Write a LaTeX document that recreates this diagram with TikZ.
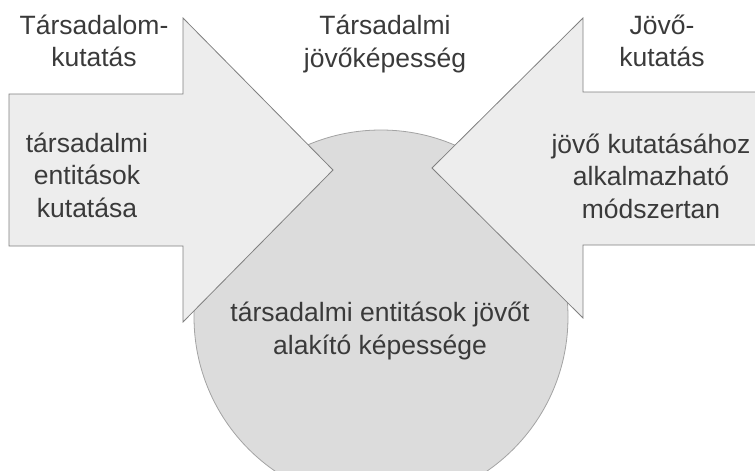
\documentclass[tikz,border=0pt]{standalone}
\usepackage{fontspec}
\setmainfont{Liberation Sans}
\usepackage{tikz}
\usetikzlibrary{calc}

\definecolor{arrowfill}{HTML}{EDEDED}
\definecolor{arrowline}{HTML}{808080}
\definecolor{blobfill}{HTML}{DCDCDC}
\definecolor{blobline}{HTML}{A3A3A3}
\definecolor{textgray}{HTML}{3A3A3A}

\begin{document}
\begin{tikzpicture}[x=1pt,y=-1pt]
% Styles

   \tikzstyle{arrowbox} = [draw=arrowline, fill=arrowfill, line width=0.8pt, line join=miter]
   \tikzstyle{blob} = [draw=blobline, fill=blobfill, line width=0.8pt, shape=circle, minimum size=374pt, inner sep=0pt]
   \tikzstyle{lbl} = [align=center, text=textgray, inner sep=0pt, font=\fontsize{26.5}{32.5}\selectfont]

\useasboundingbox (0,0) rectangle (755,471);

% Capability circle, behind the arrows
\node[blob] (core) at (381,317) {};

% Two arrows pointing into the circle
\draw[arrowbox] (9,94)--(183,94)--(183,18)--(333,170)--(183,322)--(183,246)--(9,246)--cycle;
\draw[arrowbox] (760,92)--(583,92)--(583,18)--(432,168)--(583,318)--(583,245)--(760,245)--cycle;

% Headings
\node[lbl] (socres) at (94,41) {Társadalom-\\kutatás};
\node[lbl] (ability) at (385,44) {Társadalmi\\jövőképesség};
\node[lbl] (futres) at (662,41) {Jövő-\\kutatás};

% Texts in the shapes
\node[lbl] (entres) at (87,175) {társadalmi\\entitások\\kutatása};
\node[lbl] (method) at (651,176) {jövő kutatásához\\alkalmazható\\módszertan};
\node[lbl] (shaping) at (380,331) {társadalmi entitások jövőt\\alakító képessége};
\end{tikzpicture}
\end{document}
